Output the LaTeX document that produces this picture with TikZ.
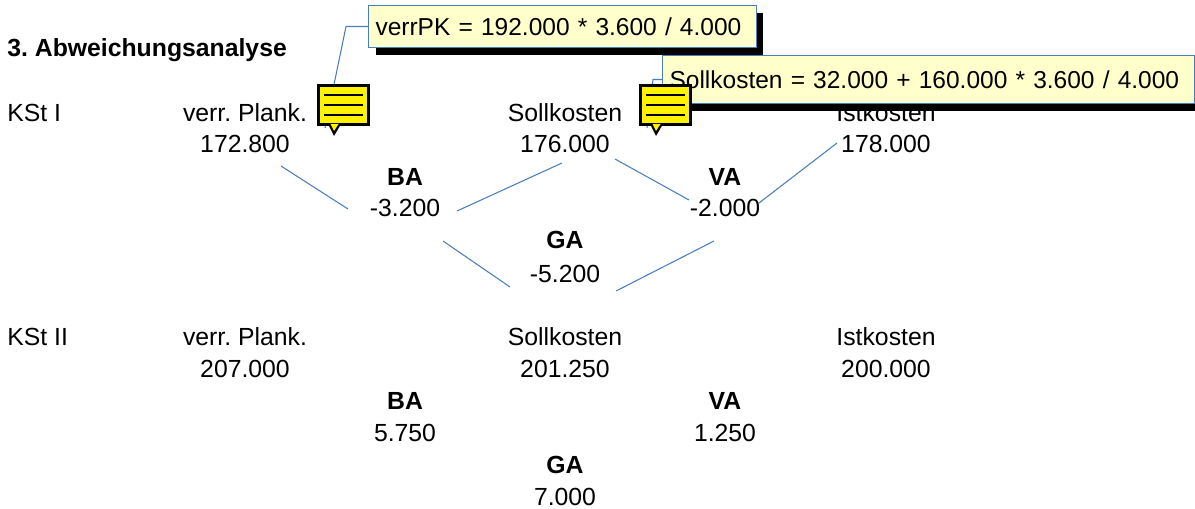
\documentclass[tikz,border=0pt]{standalone}
\usepackage{fontspec}
\usepackage{xcolor}
\usetikzlibrary{shadows}
\setmainfont{Liberation Sans}
\frenchspacing
\definecolor{leitung}{HTML}{4A7EBB}
\definecolor{notizgelb}{HTML}{FFFFCC}
\tikzset{
    wert/.style={inner sep=0pt, font=\fontsize{14.1}{17}\selectfont},
    titel/.style={wert, font=\fontsize{14.1}{17}\selectfont\bfseries},
    verbindung/.style={draw=leitung, line width=0.6pt},
    notiz/.style={draw=leitung, line width=0.6pt, fill=notizgelb, anchor=north west, align=left,
        inner xsep=0.14cm, inner ysep=0pt, font=\fontsize{13.95}{17}\selectfont,
        drop shadow={shadow xshift=0.14cm, shadow yshift=-0.14cm, opacity=1, fill=black}},
    symbol/.style={draw=black, line width=1.7pt, fill=yellow, inner sep=0pt, anchor=north west,
        minimum width=1.0cm, minimum height=0.78cm}
}

\begin{document}
\begin{tikzpicture}[x=0.02cm, y=-0.02cm]
    \useasboundingbox (0,0) rectangle (1195,509);

    % Kostenstelle I
    \node[titel, anchor=west] (ueberschrift) at (7,50) {3. Abweichungsanalyse};
    \node[wert, anchor=west] (kst1) at (7,113) {KSt I};
    \node[wert] (plank1) at (245,113) {verr. Plank.};
    \node[wert] (plankwert1) at (245,144) {172.800};
    \node[wert] (soll1) at (565,113) {Sollkosten};
    \node[wert] (sollwert1) at (565,144) {176.000};
    \node[wert] (ist1) at (886,113) {Istkosten};
    \node[wert] (istwert1) at (886,144) {178.000};
    \node[titel] (ba1) at (405,177) {BA};
    \node[wert] (bawert1) at (405,208) {-3.200};
    \node[titel] (va1) at (725,177) {VA};
    \node[wert] (vawert1) at (725,208) {-2.000};
    \node[titel] (ga1) at (565,240) {GA};
    \node[wert] (gawert1) at (565,274) {-5.200};

    % Kostenstelle II
    \node[wert, anchor=west] (kst2) at (7,337) {KSt II};
    \node[wert] (plank2) at (245,337) {verr. Plank.};
    \node[wert] (plankwert2) at (245,369) {207.000};
    \node[wert] (soll2) at (565,337) {Sollkosten};
    \node[wert] (sollwert2) at (565,369) {201.250};
    \node[wert] (ist2) at (886,337) {Istkosten};
    \node[wert] (istwert2) at (886,369) {200.000};
    \node[titel] (ba2) at (405,401) {BA};
    \node[wert] (bawert2) at (405,433) {5.750};
    \node[titel] (va2) at (725,401) {VA};
    \node[wert] (vawert2) at (725,433) {1.250};
    \node[titel] (ga2) at (565,465) {GA};
    \node[wert] (gawert2) at (565,497) {7.000};

    % Verbindungen zwischen den Werten
    \draw[verbindung] ([shift={(36,22)}]plankwert1.center) -- ([shift={(-57,1)}]bawert1.center);
    \draw[verbindung] ([shift={(52,3)}]bawert1.center) -- ([shift={(-3,19)}]sollwert1.center);
    \draw[verbindung] ([shift={(50,15)}]sollwert1.center) -- ([shift={(-36,-8)}]vawert1.center);
    \draw[verbindung] ([shift={(34,-5)}]vawert1.center) -- ([shift={(-49,-1)}]istwert1.center);
    \draw[verbindung] ([shift={(38,33)}]bawert1.center) -- ([shift={(-55,13)}]gawert1.center);
    \draw[verbindung] ([shift={(51,17)}]gawert1.center) -- ([shift={(-11,33)}]vawert1.center);

    % Notizen mit Zuleitung
    \coordinate (ende1) at (325,128);
    \coordinate (ende2) at (647,128);
    \node[notiz, text width=7.48cm, minimum height=0.84cm] (notiz1) at (368,5) {verrPK = 192.000 * 3.600 / 4.000};
    \node[notiz, text width=10.36cm, minimum height=0.96cm] (notiz2) at (662,55) {Sollkosten = 32.000 + 160.000 * 3.600 / 4.000};
    \draw[verbindung] (notiz1.west) -- ++(-22,0) -- (ende1);
    \draw[verbindung] (notiz2.west) -- ++(-9,0) -- (ende2);

    % Notizsymbole
    \foreach \name/\sx in {symbol1/317, symbol2/639} {
        \node[symbol] (\name) at (\sx,84) {};
        \fill[black] (\sx+11,124) -- (\sx+17,136) -- (\sx+24,124) -- cycle;
        \fill[yellow] (\sx+13.5,124) -- (\sx+17,131) -- (\sx+21.5,124) -- cycle;
        \foreach \ly in {95,105,115}
            \draw[black, line width=1.3pt] (\sx+7,\ly) -- (\sx+46,\ly);
    }
\end{tikzpicture}
\end{document}
